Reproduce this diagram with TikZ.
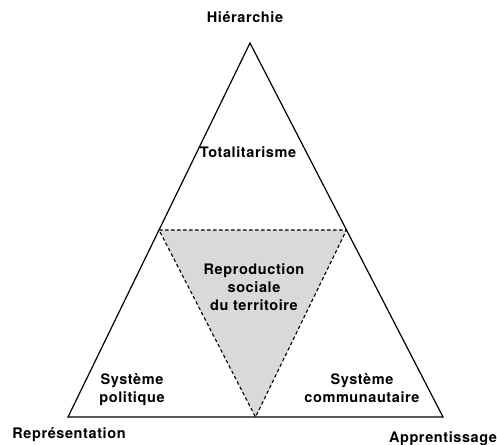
\documentclass[tikz,border=0pt]{standalone}
\usepackage{fontspec}
\setmainfont{TeX Gyre Heros}
\usetikzlibrary{calc}
\begin{document}
\begin{tikzpicture}[x=1pt,y=-1pt,
  lbl/.style={font=\bfseries\fontsize{14.5}{18}\selectfont\addfontfeatures{LetterSpace=4}, align=center, anchor=base, inner sep=0pt}]
\useasboundingbox (0,0) rectangle (497,444);
\coordinate (top) at (250,43);
\coordinate (left) at (68,417);
\coordinate (right) at (443,417);
\coordinate (midl) at ($(top)!0.5!(left)$);
\coordinate (midr) at ($(top)!0.5!(right)$);
\coordinate (midb) at ($(left)!0.5!(right)$);

\fill[black!15] (midl) -- (midr) -- (midb) -- cycle;
\draw[line width=1.1pt, dash pattern=on 3.5pt off 2.5pt] (midl) -- (midr) -- (midb) -- cycle;
\draw[line width=1.2pt, line join=miter] (top) -- (left) -- (right) -- cycle;

\node[lbl] (hier) at (245,23) {Hiérarchie};
\node[lbl] (repr) at (69,438) {Représentation};
\node[lbl] (appr) at (443,442) {Apprentissage};
\node[lbl] (total) at (248,157) {Totalitarisme};
\node[lbl] (repro) at (254,310) {Reproduction\\sociale\\du territoire};
\node[lbl] (polit) at (132,402) {Système\\politique};
\node[lbl] (commu) at (362,402) {Système\\communautaire};
\end{tikzpicture}
\end{document}
